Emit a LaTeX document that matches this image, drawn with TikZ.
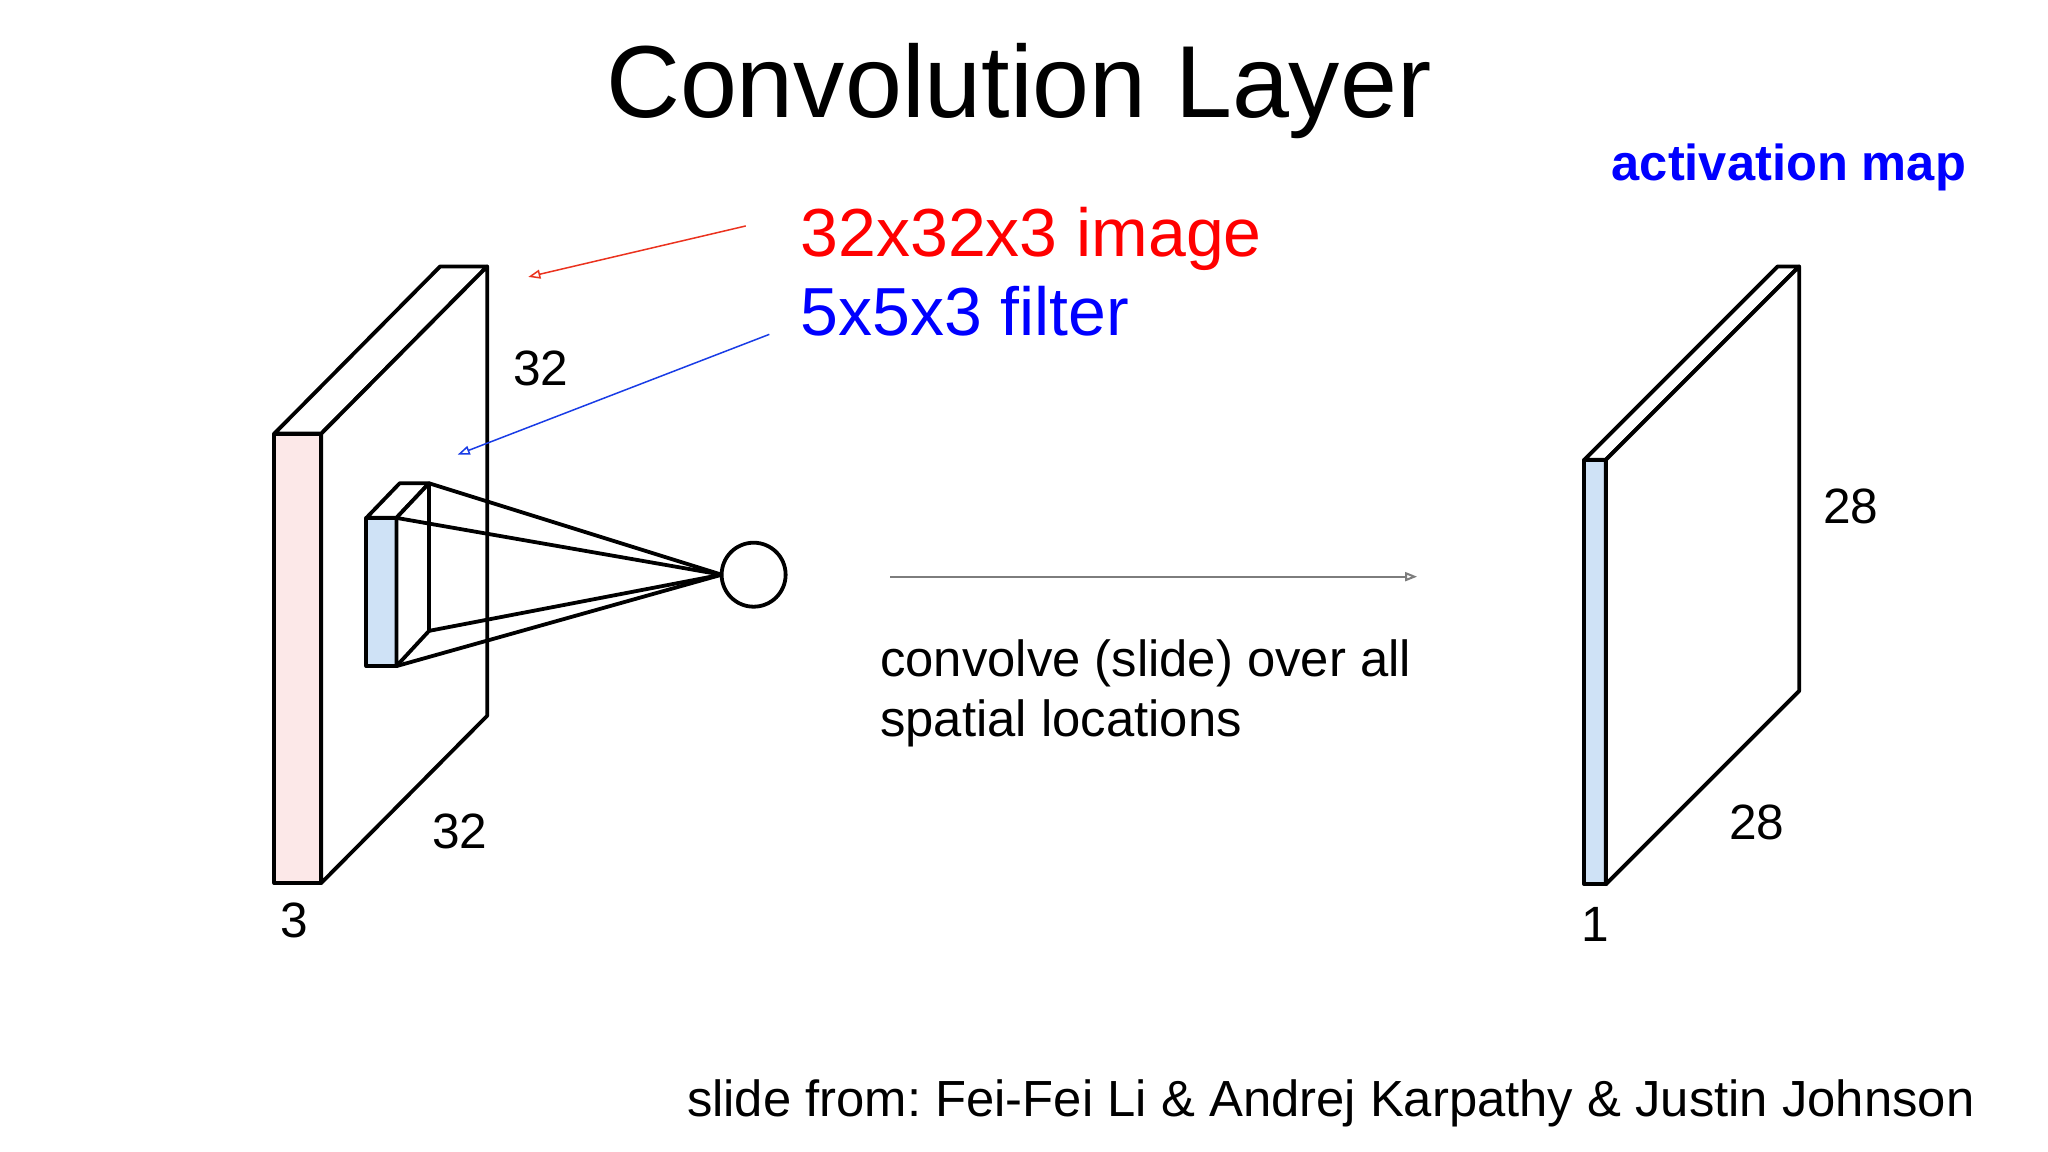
\documentclass[tikz,border=0pt]{standalone}
\usepackage{fontspec}
\setmainfont{Liberation Sans}
\usetikzlibrary{arrows.meta}
\frenchspacing
\definecolor{pinkfill}{RGB}{252,232,232}
\definecolor{bluefill}{RGB}{207,226,246}
\definecolor{redtxt}{RGB}{255,0,0}
\definecolor{bluetxt}{RGB}{0,0,255}
\definecolor{redline}{RGB}{235,50,30}
\definecolor{blueline}{RGB}{25,60,230}
\definecolor{grayline}{RGB}{125,125,125}
\begin{document}
\begin{tikzpicture}[x=0.6531pt,y=-0.6531pt,
  edge/.style={draw=black,line width=1.9pt,line join=round},
  txt/.style={inner sep=0pt,outer sep=0pt,anchor=base west},
  lbl/.style={txt,font=\fontsize{24.8pt}{28pt}\selectfont},
  body/.style={txt,font=\fontsize{25.4pt}{30pt}\selectfont},
  thinarrow/.style={line width=0.75pt,-{Triangle[open,length=6pt,width=4.5pt]}}]
\useasboundingbox (0,0) rectangle (1568,882);
\fill[white] (0,0) rectangle (1568,882);

% ---- input volume
\coordinate (A1) at (210,332);
\coordinate (A2) at (246,332);
\coordinate (A3) at (246,676);
\coordinate (B1) at (337,204);
\coordinate (B2) at (373,204);
\coordinate (B3) at (373,548);
\draw[edge,fill=pinkfill] (A1) rectangle (A3);
\draw[edge,fill=white] (A1) -- (B1) -- (B2) -- (A2) -- cycle;
\draw[edge,fill=white] (A2) -- (B2) -- (B3) -- (A3) -- cycle;

% ---- filter
\coordinate (F1) at (280.5,396.5);
\coordinate (F2) at (303.5,396.5);
\coordinate (F3) at (303.5,510);
\coordinate (G1) at (306,370);
\coordinate (G2) at (328.5,370);
\coordinate (G3) at (328.5,483);
\draw[edge,fill=bluefill] (F1) rectangle (F3);
\draw[edge,fill=white] (F1) -- (G1) -- (G2) -- (F2) -- cycle;
\draw[edge,fill=white] (F2) -- (G2) -- (G3) -- (F3) -- cycle;

% ---- neuron and cone
\node[draw=black,line width=1.9pt,circle,minimum size=49*0.6531pt,inner sep=0pt,outer sep=0pt] (neuron) at (577,440) {};
\draw[edge] (G2) -- (neuron.west);
\draw[edge] (F2) -- (neuron.west);
\draw[edge] (G3) -- (neuron.west);
\draw[edge] (F3) -- (neuron.west);

% ---- output volume
\coordinate (C1) at (1213,352);
\coordinate (C2) at (1229.5,352);
\coordinate (C3) at (1229.5,677);
\coordinate (D1) at (1361,204);
\coordinate (D2) at (1377.5,204);
\coordinate (D3) at (1377.5,529);
\draw[edge,fill=bluefill] (C1) rectangle (C3);
\draw[edge,fill=white] (C1) -- (D1) -- (D2) -- (C2) -- cycle;
\draw[edge,fill=white] (C2) -- (D2) -- (D3) -- (C3) -- cycle;

% ---- texts
\node[inner sep=0pt,anchor=base,font=\fontsize{51.2pt}{60pt}\selectfont] (title) at (780,90) {Convolution Layer};
\node[txt,text=redtxt,font=\fontsize{34pt}{40pt}\selectfont] (imgtxt) at (613,196.5) {32x32x3 image};
\node[txt,text=bluetxt,font=\fontsize{34pt}{40pt}\selectfont] (filtxt) at (613,256.5) {5x5x3 filter};
\node[txt,text=bluetxt,font=\bfseries\fontsize{25.3pt}{30pt}\selectfont] (acttxt) at (1234,138) {activation map};
\node[body] (conv1) at (674,518) {convolve (slide) over all};
\node[body] (conv2) at (674,564) {spatial locations};
\node[body] (credit) at (526,855) {slide from: Fei-Fei Li \& Andrej Karpathy \& Justin Johnson};

\node[lbl] (h32) at (393,295) {32};
\node[lbl] (w32) at (331,650) {32};
\node[lbl] (d3) at (215,718) {3};
\node[lbl] (h28) at (1396,401) {28};
\node[lbl] (w28) at (1324,643) {28};
\node[lbl] (d1) at (1211,721) {1};

% ---- arrows
\coordinate (rs) at (571,173);
\coordinate (re) at (404.5,212);
\draw[thinarrow,draw=redline] (rs) -- (re);
\coordinate (bs) at (589,256);
\coordinate (be) at (350.5,348);
\draw[thinarrow,draw=blueline] (bs) -- (be);
\coordinate (gs) at (681.5,441.5);
\coordinate (ge) at (1085,441.5);
\draw[line width=1pt,draw=grayline,-{Triangle[open,length=6pt,width=4.5pt]}] (gs) -- (ge);
\end{tikzpicture}
\end{document}
